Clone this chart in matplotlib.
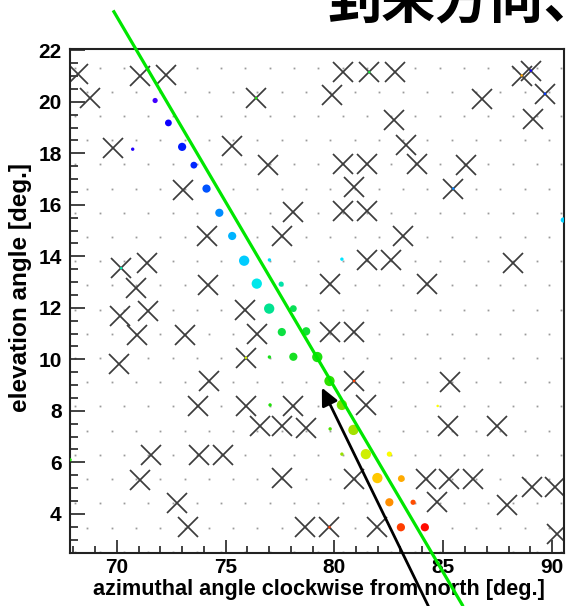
import matplotlib
matplotlib.use("Agg")
import matplotlib.pyplot as plt
import numpy as np
from matplotlib.colors import LinearSegmentedColormap
from matplotlib.ticker import MultipleLocator

# ---------------- data ----------------
# background sky-grid lattice (two interleaved sets of rows)
grid_el_a = [3.47, 5.35, 7.23, 9.11, 10.99, 12.87, 14.75, 16.63, 18.51, 20.39]
grid_az_a = [68.65, 69.77, 70.88, 72.00, 73.11, 74.23, 75.35, 76.46, 77.58, 78.69,
             79.81, 80.93, 82.04, 83.16, 84.27, 85.39, 86.51, 87.62, 88.74, 89.85]
grid_el_b = [2.53, 4.41, 6.29, 8.17, 10.05, 11.93, 13.81, 15.69, 17.57, 19.45, 21.33]
grid_az_b = [68.09, 69.21, 70.32, 71.44, 72.56, 73.67, 74.79, 75.90, 77.02, 78.14,
             79.25, 80.37, 81.48, 82.60, 83.72, 84.83, 85.95, 87.06, 88.18, 89.30, 90.41]

# rejected directions (X markers)
rej_az = [68.24, 71.07, 72.26, 68.77, 76.40, 69.82, 75.28, 76.94, 73.03, 78.11,
          74.16, 77.58, 80.41, 81.60, 82.78, 79.88, 86.77, 88.60, 89.02, 89.67,
          89.14, 82.74, 83.29, 80.38, 81.48, 83.78, 86.04, 80.91, 85.46, 80.38,
          81.48, 83.17, 70.20, 71.41, 70.89, 74.21, 70.15, 71.45, 70.92, 73.14,
          75.89, 76.46, 70.12, 75.93, 74.25, 73.75, 75.93, 78.11, 76.58, 77.58,
          78.67, 81.48, 82.59, 88.19, 79.80, 84.27, 79.80, 80.90, 80.90,
          85.31, 81.45, 85.23, 87.46, 71.56, 73.79, 74.87, 71.07, 77.58, 72.76,
          73.26, 78.65, 80.91, 84.21, 85.28, 86.35, 89.09, 90.13, 84.70, 87.94,
          79.77, 81.97, 90.21]
rej_el = [21.08, 21.02, 21.04, 20.14, 20.14, 18.21, 18.29, 17.56, 16.57, 15.73,
          14.77, 14.80, 21.15, 21.15, 21.15, 20.25, 20.12, 21.02, 21.21, 20.31,
          19.34, 19.28, 18.34, 17.60, 17.60, 17.60, 17.54, 16.70, 16.63, 15.76,
          15.76, 14.80, 13.54, 13.73, 12.77, 12.90, 11.67, 11.86, 10.94, 10.96,
          11.93, 10.99, 9.83, 10.06, 9.16, 8.19, 8.19, 8.19, 7.42, 7.42,
          7.35, 13.86, 13.86, 13.73, 12.92, 12.92, 11.05, 11.05, 9.16,
          9.13, 8.23, 7.42, 7.42, 6.28, 6.28, 6.28, 5.32, 5.39, 4.41,
          3.48, 3.49, 5.35, 5.35, 5.35, 5.35, 5.03, 5.06, 4.45, 4.36,
          3.48, 3.48, 3.23]

# detected directions (coloured dots): azimuth, elevation, colour value, amplitude level
det_az = [71.76, 72.37, 70.73, 73.00, 73.54, 74.12, 74.71, 75.30, 75.85, 77.01,
          76.43, 77.55, 77.00, 78.11, 77.58, 78.70, 77.01, 78.11, 79.21, 77.04,
          79.77, 80.34, 80.34, 79.80, 80.87, 80.34, 81.44, 82.52, 81.97, 83.07,
          82.52, 83.61, 83.05, 84.15, 84.74, 90.51, 67.85,
          76.40, 88.60, 89.02, 89.67, 85.46, 70.20, 75.93, 80.90, 79.77, 81.60]
det_el = [20.05, 19.18, 18.16, 18.25, 17.54, 16.63, 15.69, 14.79, 13.83, 13.86,
          12.94, 12.92, 11.97, 11.97, 11.06, 11.09, 10.09, 10.10, 10.09, 8.23,
          9.16, 13.89, 8.23, 7.30, 7.26, 6.32, 6.32, 6.32, 5.39, 5.37,
          4.45, 4.45, 3.48, 3.48, 8.19, 15.41, 6.10,
          20.14, 21.02, 21.21, 20.31, 16.63, 13.54, 10.06, 9.16, 3.48, 21.15]
det_val = [0.05, 0.10, 0.08, 0.13, 0.14, 0.17, 0.21, 0.25, 0.29, 0.32,
           0.35, 0.40, 0.42, 0.47, 0.49, 0.50, 0.53, 0.52, 0.54, 0.55,
           0.57, 0.33, 0.63, 0.59, 0.67, 0.66, 0.72, 0.77, 0.83, 0.86,
           0.89, 0.94, 0.95, 0.99, 0.77, 0.30, 0.55,
           0.55, 0.87, 0.10, 0.15, 0.20, 0.40, 0.72, 0.95, 0.95, 0.50]
det_amp = [2, 3, 1, 4, 3, 4, 4, 4, 5, 1,
           5, 2, 5, 3, 4, 4, 1, 4, 5, 1,
           5, 1, 5, 1, 5, 1, 5, 2, 5, 3,
           4, 2, 4, 4, 0, 2, 1,
           0, 0, 0, 0, 0, 0, 0, 0, 0, 0]

# fitted direction line and arrow (azimuth, elevation)
fit_line_az = [69.83, 85.91]
fit_line_el = [23.55, 0.41]
arrow_tail = (84.31, 0.42)
arrow_tip = (79.42, 8.90)

title_text = "到来方向、仰角"
xlabel = "azimuthal angle clockwise from north [deg.]"
ylabel = "elevation angle [deg.]"

# ---------------- style ----------------
amp_diam_px = {0: 2.5, 1: 3.4, 2: 5.2, 3: 6.8, 4: 8.2, 5: 10.3}
palette = LinearSegmentedColormap.from_list(
    "root_rainbow",
    ["#7000ff", "#0000ff", "#00a0ff", "#00e8ff", "#00e070",
     "#20e000", "#a0e000", "#ffff00", "#ff9000", "#ff0000"])

W, H, DPI = 566, 606, 100
fig = plt.figure(figsize=(W / DPI, H / DPI), dpi=DPI)
ax = fig.add_axes([70 / W, 1 - 552.5 / H, 493.5 / W, 503.5 / H])
ax.set_xlim(67.85, 90.52)
ax.set_ylim(2.5, 22.05)

# lattice
ga_x, ga_y = np.meshgrid(grid_az_a, grid_el_a)
gb_x, gb_y = np.meshgrid(grid_az_b, grid_el_b)
for gx, gy in ((ga_x, ga_y), (gb_x, gb_y)):
    ax.plot(gx.ravel(), gy.ravel(), ls="none", marker="s", ms=1.3, mew=0,
            color="#9a9a9a", zorder=1)

# rejected X markers
ax.plot(rej_az, rej_el, ls="none", marker="x", ms=15.0, mew=1.25,
        color="#3c3c3c", zorder=2)

# detected dots
sizes = [(amp_diam_px[a] * 0.72) ** 2 for a in det_amp]
ax.scatter(det_az, det_el, s=sizes, c=det_val, cmap=palette, vmin=0, vmax=1,
           linewidths=0, zorder=3)

# fitted line (extends beyond frame)
ax.plot(fit_line_az, fit_line_el, color="#00e600", lw=2.3, zorder=4,
        clip_on=False, solid_capstyle="butt")

# arrow
ax.annotate("", xy=arrow_tip, xytext=arrow_tail, annotation_clip=False,
            arrowprops=dict(arrowstyle="-|>,head_length=0.75,head_width=0.36",
                            color="black", lw=2.0, mutation_scale=14,
                            shrinkA=0, shrinkB=0), zorder=5)

# axes styling
for side in ("top", "right", "bottom", "left"):
    ax.spines[side].set_linewidth(1.5)
    ax.spines[side].set_color("#222222")
ax.xaxis.set_major_locator(MultipleLocator(5))
ax.xaxis.set_minor_locator(MultipleLocator(1))
ax.yaxis.set_major_locator(MultipleLocator(2))
ax.yaxis.set_minor_locator(MultipleLocator(0.5))
ax.tick_params(axis="x", which="major", direction="in", length=9.5, width=1.2,
               pad=4, top=False, labelsize=15, colors="#222222", labelcolor="black")
ax.tick_params(axis="x", which="minor", direction="in", length=5, width=1.2, top=False,
               colors="#222222")
ax.tick_params(axis="y", which="major", direction="in", length=11, width=1.2,
               pad=6, right=False, labelsize=15, colors="#222222", labelcolor="black")
ax.tick_params(axis="y", which="minor", direction="in", length=5.5, width=1.2, right=False,
               colors="#222222")
for lab in ax.get_xticklabels() + ax.get_yticklabels():
    lab.set_fontfamily("Liberation Sans")
    lab.set_fontweight("bold")

ax.set_xlabel(xlabel, fontsize=15.6, fontweight="bold", family="Liberation Sans")
ax.xaxis.set_label_coords((319 - 70) / 493.5, (552.5 - 579) / 503.5)
ax.set_ylabel(ylabel, fontsize=17.5, fontweight="bold", family="Liberation Sans")
ax.yaxis.set_label_coords((32 - 70) / 493.5, (552.5 - 287) / 503.5)

fig.text(327 / W, 1 - 17.7 / H, title_text, fontsize=39, fontweight="bold",
         family=["Noto Sans CJK JP", "DejaVu Sans"], ha="left", va="baseline")

fig.savefig("out.png", dpi=DPI)
